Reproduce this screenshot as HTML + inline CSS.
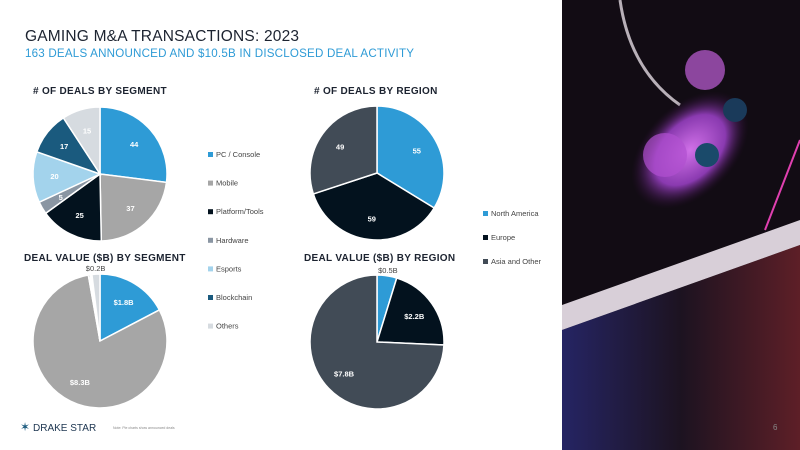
<!DOCTYPE html>
<html><head><meta charset="utf-8"><style>
body{margin:0;width:800px;height:450px;overflow:hidden;background:#fff;font-family:"Liberation Sans",sans-serif;position:relative}
.t{position:absolute;white-space:nowrap}
</style></head><body>
<div class="t" style="left:25px;top:28px;font-size:15.5px;color:#1c2330;letter-spacing:0.2px">GAMING M&amp;A TRANSACTIONS: 2023</div>
<div class="t" style="left:25px;top:47px;font-size:11.6px;color:#2e9bd6;letter-spacing:0.2px">163 DEALS ANNOUNCED AND $10.5B IN DISCLOSED DEAL ACTIVITY</div>
<svg id="c" width="800" height="450" style="position:absolute;left:0;top:0">
<g>
<defs>
<radialGradient id="g1" cx="0.5" cy="0.5" r="0.5"><stop offset="0" stop-color="#d070e8"/><stop offset="0.6" stop-color="#8a3ab0"/><stop offset="1" stop-color="#2a0c30" stop-opacity="0"/></radialGradient>
<linearGradient id="kb" x1="0" y1="0" x2="1" y2="0"><stop offset="0" stop-color="#3a3aa8"/><stop offset="0.5" stop-color="#2a1a2e"/><stop offset="1" stop-color="#a0303a"/></linearGradient>
</defs>
<rect x="562" y="0" width="238" height="450" fill="#120c14"/>
<path d="M620 0 Q630 70 680 105" stroke="#b8b0b8" stroke-width="3" fill="none"/>
<path d="M800 140 L765 230" stroke="#e040b0" stroke-width="2"/>
<ellipse cx="690" cy="150" rx="70" ry="45" transform="rotate(-45 690 150)" fill="url(#g1)"/>
<circle cx="705" cy="70" r="20" fill="#c060d8" opacity="0.7"/>
<circle cx="665" cy="155" r="22" fill="#b050d0" opacity="0.7"/>
<circle cx="735" cy="110" r="12" fill="#1a3a5a"/>
<circle cx="707" cy="155" r="12" fill="#1a4a6a"/>
<polygon points="562,305 800,220 800,450 562,450" fill="#0c0a10"/>
<polygon points="562,305 800,220 800,245 562,330" fill="#d8cfd8"/>
<polygon points="562,330 800,245 800,450 600,450 562,450" fill="url(#kb)" opacity="0.55"/>
<text x="773" y="430" font-size="8" fill="#888">6</text>
</g>
</svg>
<script>
const segLabels=["PC / Console","Mobile","Platform/Tools","Hardware","Esports","Blockchain","Others"];
const segColors=["#2e9bd6","#a6a6a6","#03121e","#8a96a3","#a3d3ec","#1a5a7e","#d6dbe0"];
const segDeals=[44,37,25,5,20,17,15];
const segValue=[1.8,8.3,0.04,0.01,0.01,0.03,0.2];
const segValueLabels=["$1.8B","$8.3B","","","","","$0.2B"];
const regLabels=["North America","Europe","Asia and Other"];
const regColors=["#2e9bd6","#03121e","#414b56"];
const regDeals=[55,59,49];
const regValue=[0.5,2.2,7.8];
const regValueLabels=["$0.5B","$2.2B","$7.8B"];
const svg=document.getElementById('c');
const NS="http://www.w3.org/2000/svg";
function mk(t,a){const e=document.createElementNS(NS,t);for(const k in a)e.setAttribute(k,a[k]);svg.appendChild(e);return e;}
function pie(cx,cy,r,vals,cols,labels,name,outside){
  const tot=vals.reduce((a,b)=>a+b,0);let a0=0;
  vals.forEach((v,i)=>{
    const a1=a0+v/tot*2*Math.PI;
    const p=(a)=>[cx+r*Math.sin(a),cy-r*Math.cos(a)];
    const [x0,y0]=p(a0),[x1,y1]=p(a1);
    const large=(a1-a0)>Math.PI?1:0;
    const s=mk('path',{d:`M${cx} ${cy}L${x0} ${y0}A${r} ${r} 0 ${large} 1 ${x1} ${y1}Z`,fill:cols[i],stroke:'#fff','stroke-width':1.5});
    
    
    const lab=labels[i];
    if(lab!==""&&lab!==undefined){
      const m=(a0+a1)/2;const out=outside&&outside(i);
      const rr=out?r+6:r*0.68;
      const t=mk('text',{x:cx+rr*Math.sin(m),y:cy-rr*Math.cos(m)+3,'font-size':7.5,'font-weight':out?'normal':'bold',fill:out?'#444':'#fff','text-anchor':'middle'});
      t.textContent=lab;
      
      
    }
    a0=a1;
  });
}
pie(100,174,67,segDeals,segColors,segDeals.map(String),'deals-segment');
pie(100,341,67,segValue,segColors,segValueLabels,'value-segment',i=>i===6);
pie(377,173,67,regDeals,regColors,regDeals.map(String),'deals-region');
pie(377,342,67,regValue,regColors,regValueLabels,'value-region',i=>i===0);
function title(x,y,s,n){const t=mk('text',{x:x,y:y,'font-size':10,'font-weight':'bold',fill:'#1c2330','letter-spacing':0.3});t.textContent=s;

}
title(33,94,"# OF DEALS BY SEGMENT",'title-deals-segment');
title(24,261,"DEAL VALUE ($B) BY SEGMENT",'title-value-segment');
title(314,94,"# OF DEALS BY REGION",'title-deals-region');
title(304,261,"DEAL VALUE ($B) BY REGION",'title-value-region');
function legend(x,y0,dy,labels,cols,n){labels.forEach((l,i)=>{const y=y0+i*dy;
const r=mk('rect',{x:x,y:y-5,width:5,height:5,fill:cols[i]});


const t=mk('text',{x:x+8,y:y,'font-size':7.5,fill:'#444'});t.textContent=l;

});}
legend(208,157,28.6,segLabels,segColors,'segment-legend');
legend(483,216,24,regLabels,regColors,'region-legend');
const lg=mk('text',{x:33,y:431,'font-size':10,fill:'#1c3550'});lg.textContent="DRAKE STAR";


const st=mk('text',{x:25,y:431,'font-size':12,fill:'#1a5a7e','text-anchor':'middle'});st.textContent="✶";


const nt=mk('text',{x:113,y:429,'font-size':3.5,fill:'#888'});nt.textContent="Note: Pie charts show announced deals";


</script>
</body></html>
